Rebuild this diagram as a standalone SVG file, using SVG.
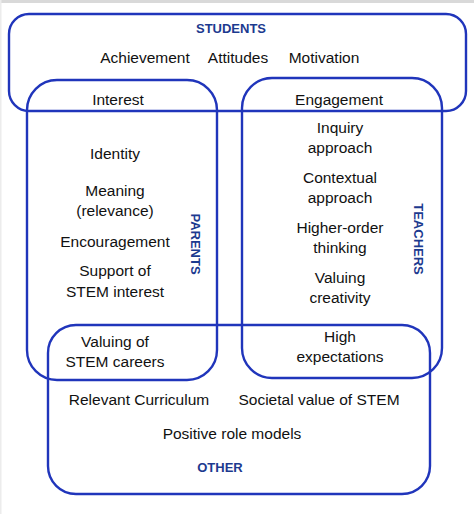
<svg xmlns="http://www.w3.org/2000/svg" width="474" height="514" viewBox="0 0 474 514">
<style>
.box{fill:none;stroke:#2035bb;stroke-width:2.4}
.t{font-family:"Liberation Sans",Arial,sans-serif;font-size:15.5px;fill:#111;text-anchor:middle}
.h{font-family:"Liberation Sans",Arial,sans-serif;font-size:13px;font-weight:bold;fill:#1c3a8f;text-anchor:middle}
</style>
<rect x="0" y="0" width="474" height="514" fill="#fff"/>
<rect x="0" y="0" width="474" height="3" fill="#d9d9d9"/>
<rect x="0" y="0" width="1.5" height="514" fill="#ececec"/>
<g id="students">
<rect class="box" x="9" y="14" width="457" height="97" rx="20"/>
<text class="h" x="231" y="33">STUDENTS</text>
<text class="t" x="145" y="63">Achievement</text>
<text class="t" x="238" y="63">Attitudes</text>
<text class="t" x="324" y="63">Motivation</text>
</g>
<g id="parents">
<rect class="box" x="27" y="80" width="190" height="300" rx="30"/>
<text class="t" x="118" y="105">Interest</text>
<text class="t" x="115" y="159">Identity</text>
<text class="t" x="115" y="196">Meaning</text>
<text class="t" x="115" y="216">(relevance)</text>
<text class="t" x="115" y="247">Encouragement</text>
<text class="t" x="115" y="276">Support of</text>
<text class="t" x="115" y="297">STEM interest</text>
<text class="h" transform="translate(190.5,244) rotate(90)">PARENTS</text>
<text class="t" x="115" y="347">Valuing of</text>
<text class="t" x="115" y="367">STEM careers</text>
</g>
<g id="teachers">
<rect class="box" x="242" y="78" width="200" height="300" rx="30"/>
<text class="t" x="339" y="105">Engagement</text>
<text class="t" x="340" y="133">Inquiry</text>
<text class="t" x="340" y="153">approach</text>
<text class="t" x="340" y="183">Contextual</text>
<text class="t" x="340" y="203">approach</text>
<text class="t" x="340" y="233">Higher-order</text>
<text class="t" x="340" y="253">thinking</text>
<text class="t" x="340" y="283">Valuing</text>
<text class="t" x="340" y="303">creativity</text>
<text class="h" transform="translate(414,239) rotate(90)">TEACHERS</text>
<text class="t" x="340" y="342">High</text>
<text class="t" x="340" y="362">expectations</text>
</g>
<g id="other">
<rect class="box" x="48" y="325" width="382" height="169" rx="28"/>
<text class="t" x="139" y="405">Relevant Curriculum</text>
<text class="t" x="319" y="405">Societal value of STEM</text>
<text class="t" x="232" y="439">Positive role models</text>
<text class="h" x="220" y="472">OTHER</text>
</g>
<g id="connectors"></g>
</svg>
